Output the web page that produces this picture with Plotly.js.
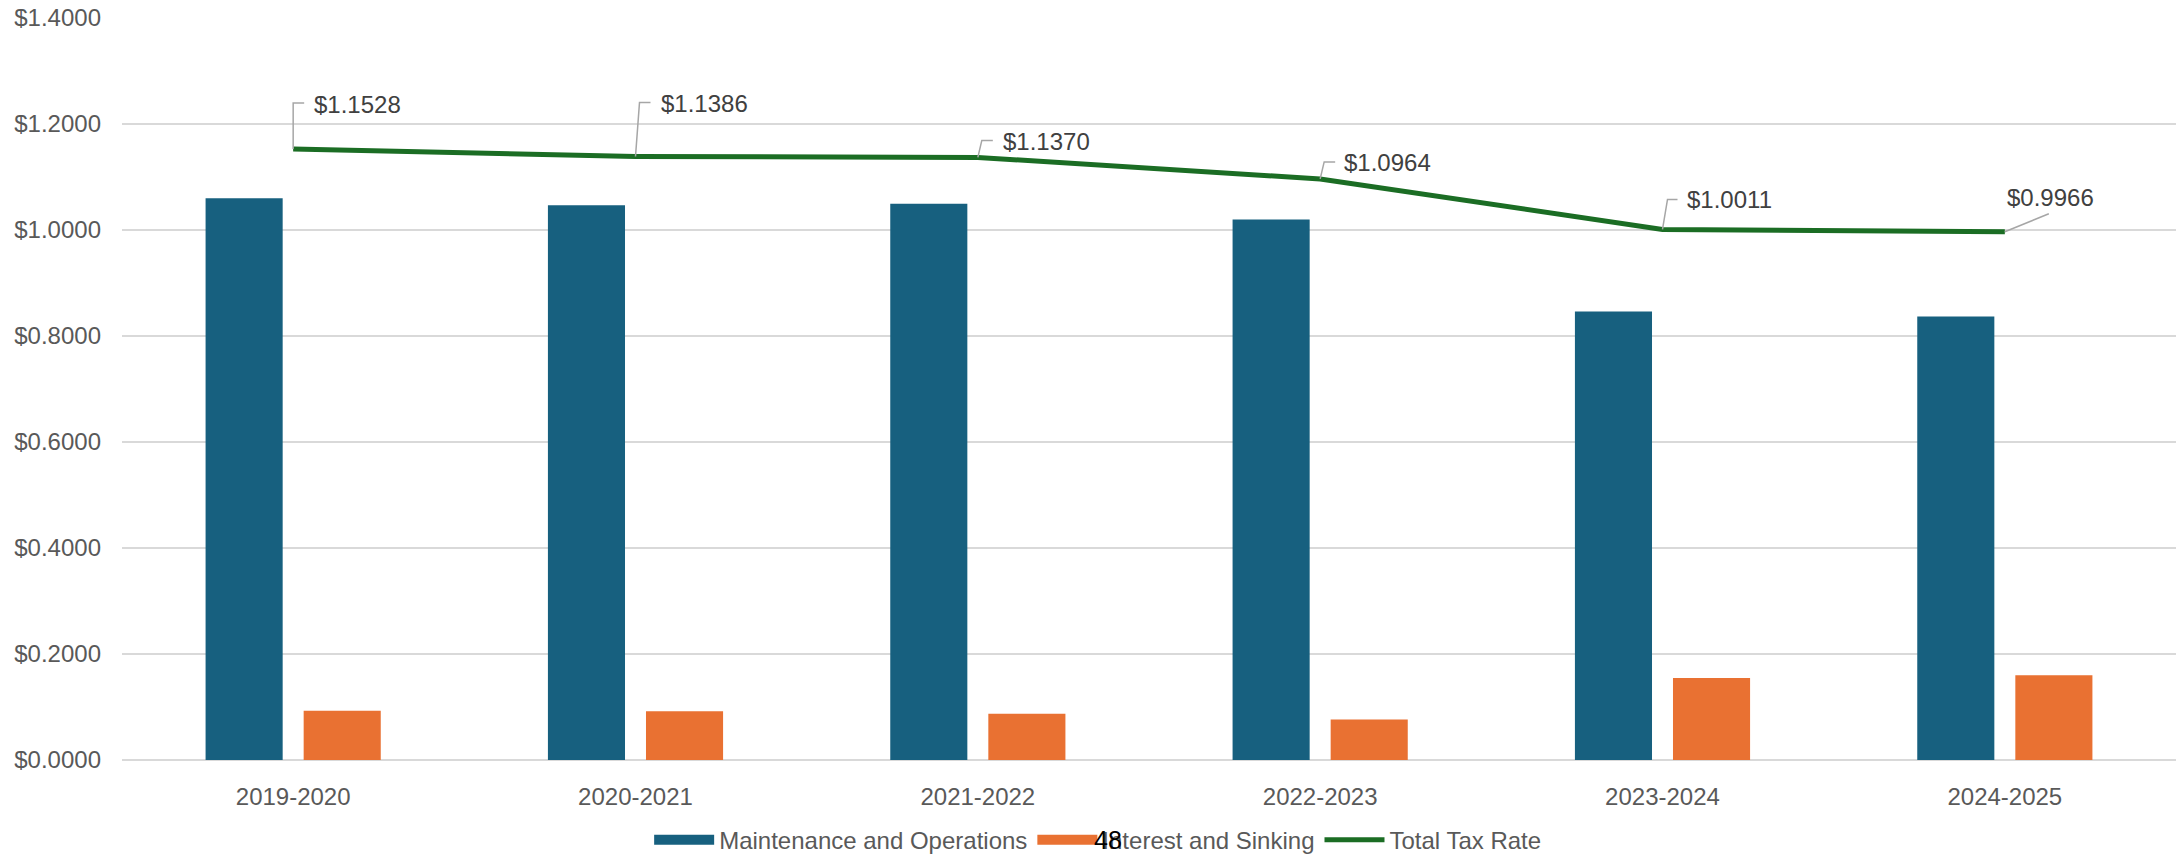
<!DOCTYPE html>
<html>
<head>
<meta charset="utf-8">
<script src="https://cdn.plot.ly/plotly-3.0.1.min.js"></script>
<style>
  html, body { margin: 0; padding: 0; background: #ffffff; }
  #chart { width: 2178px; height: 856px; }
</style>
</head>
<body>
<div id="chart"></div>
<script>
// ---- data ----
const years = ["2019-2020", "2020-2021", "2021-2022", "2022-2023", "2023-2024", "2024-2025"];
const maintenanceOps = [1.0600, 1.0466, 1.0497, 1.0200, 0.8462, 0.8369];
const interestSinking = [0.0928, 0.0920, 0.0873, 0.0764, 0.1549, 0.1597];
const totalRate = [1.1528, 1.1386, 1.1370, 1.0964, 1.0011, 0.9966];
const seriesNames = ["Maintenance and Operations", "Interest and Sinking", "Total Tax Rate"];
const yTickVals = [0, 0.2, 0.4, 0.6, 0.8, 1.0, 1.2, 1.4];
const pageNumber = "48";

// ---- label placement (pixel offsets from each point; positive = up) ----
const leaderPaths = [
  "M0,0 L0,46 L11,46",
  "M0,0 L4,54 L15,54",
  "M0,0 L4,17 L15,17",
  "M0,0 L4,17 L15,17",
  "M0,0 L5,30 L15,30",
  "M0,0 L44,18"
];
const labelShift = [
  {dx: 19, dy: 45, anchor: "left"},
  {dx: 23, dy: 53, anchor: "left"},
  {dx: 23, dy: 16, anchor: "left"},
  {dx: 22, dy: 16, anchor: "left"},
  {dx: 22, dy: 30, anchor: "left"},
  {dx: 46, dy: 34, anchor: "center"}
];

const FONT = "Liberation Sans, Arial, sans-serif";
const fmt = v => "$" + v.toFixed(4);
const BLUE = "#17607F", ORANGE = "#E97132", GREEN = "#1B6D24";

const traces = [
  {
    type: "bar", name: seriesNames[0], x: years, y: maintenanceOps,
    marker: {color: BLUE}, showlegend: false
  },
  {
    type: "bar", name: seriesNames[1], x: years, y: interestSinking,
    marker: {color: ORANGE}, showlegend: false
  },
  // legend swatches (wide rectangles like the original)
  {
    type: "scatter", mode: "lines", name: seriesNames[0], x: [null], y: [null],
    line: {color: BLUE, width: 14}
  },
  {
    type: "scatter", mode: "lines", name: seriesNames[1], x: [null], y: [null],
    line: {color: ORANGE, width: 14}
  },
  {
    type: "scatter", mode: "lines", name: seriesNames[2], x: years, y: totalRate,
    line: {color: GREEN, width: 5}
  }
];

const annotations = years.map((yr, i) => ({
  x: yr, y: totalRate[i], xref: "x", yref: "y",
  text: fmt(totalRate[i]), showarrow: false,
  xanchor: labelShift[i].anchor, yanchor: "middle",
  xshift: labelShift[i].dx, yshift: labelShift[i].dy,
  font: {family: FONT, size: 24, color: "#404040"}
}));
annotations.push({
  x: 0.480, y: -0.108, xref: "paper", yref: "paper",
  text: pageNumber, showarrow: false, xanchor: "center", yanchor: "middle",
  font: {family: FONT, size: 25, color: "#000000"}
});

const shapes = years.map((yr, i) => ({
  type: "path", xref: "x", yref: "y",
  xsizemode: "pixel", ysizemode: "pixel",
  xanchor: i, yanchor: totalRate[i],
  path: leaderPaths[i],
  line: {color: "#A6A6A6", width: 1.5}
}));

const layout = {
  width: 2178, height: 856,
  margin: {l: 122, r: 2, t: 18, b: 96, autoexpand: false},
  paper_bgcolor: "#ffffff", plot_bgcolor: "#ffffff",
  font: {family: FONT, size: 24, color: "#595959"},
  barmode: "group", bargap: 0.427, bargroupgap: 0.214,
  showlegend: true,
  legend: {
    orientation: "h", x: 0.475, xanchor: "center", y: -0.108, yanchor: "middle",
    font: {family: FONT, size: 24, color: "#595959"},
    traceorder: "normal", itemwidth: 60
  },
  xaxis: {
    type: "category", showgrid: false, zeroline: false,
    showline: false, ticks: "", ticklabelstandoff: 20,
    tickfont: {family: FONT, size: 24, color: "#595959"}
  },
  yaxis: {
    range: [0, 1.4], tickvals: yTickVals, tickformat: "$.4f",
    showgrid: true, gridcolor: "#D9D9D9", gridwidth: 1.3,
    zeroline: true, zerolinecolor: "#D9D9D9", zerolinewidth: 1.5,
    showline: false, ticks: "", ticklabelstandoff: 20,
    tickfont: {family: FONT, size: 24, color: "#595959"}
  },
  annotations: annotations,
  shapes: shapes
};

Plotly.newPlot("chart", traces, layout, {staticPlot: true, displayModeBar: false});
</script>
</body>
</html>
